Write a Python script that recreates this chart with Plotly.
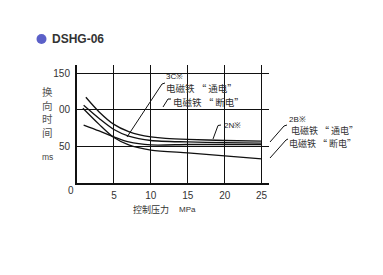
import plotly.graph_objects as go

# ---- data ----
pressure_top = [1.2, 3, 5, 7, 8.5, 10, 12, 15, 20, 25]
time_top = [117, 97, 80, 70, 65.5, 63, 61, 59.5, 58, 57]

pressure_mid = [0.9, 3, 5, 7, 10, 15, 20, 25]
time_mid = [106, 88, 73, 64, 58, 56, 55, 54.5]

pressure_low = [0.8, 3, 5, 7, 10, 15, 20, 25]
time_low = [102, 80, 62, 52, 45, 41, 37, 33]

pressure_lin = [0.9, 3, 5, 7, 10, 15, 20, 25]
time_lin = [79, 71, 63, 56, 52, 52.5, 52.5, 52.3]

x_ticks = [5, 10, 15, 20, 25]
x_ticklabels = ["5", "10", "15", "20", "25"]
y_ticks = [50, 100, 150]
y_ticklabels = ["50", "00", "150"]

W, H = 383, 275
ML, MR, MT, MB = 77, 114, 65, 92
PW, PH = W - ML - MR, H - MT - MB


def pp(px, py):
    return (px - ML) / PW, (H - MB - py) / PH


CJK = "Noto Sans CJK SC, Liberation Sans, sans-serif"
LAT = "Liberation Sans, Arial, sans-serif"

fig = go.Figure()
for xs, ys in [(pressure_top, time_top), (pressure_mid, time_mid),
               (pressure_low, time_low), (pressure_lin, time_lin)]:
    fig.add_trace(go.Scatter(x=xs, y=ys, mode="lines",
                             line=dict(color="#111", width=1.3, shape="spline", smoothing=0.8),
                             showlegend=False, hoverinfo="skip"))

fig.update_layout(
    width=W, height=H,
    margin=dict(l=ML, r=MR, t=MT, b=MB, pad=0),
    paper_bgcolor="white", plot_bgcolor="white",
    xaxis=dict(range=[0, 26], tickvals=x_ticks, ticktext=x_ticklabels,
               showgrid=True, gridcolor="#111", gridwidth=1.4,
               showline=True, linecolor="#111", linewidth=2,
               zeroline=False, ticks="", tickfont=dict(family=LAT, size=10, color="#333"),
               ticklabelstandoff=2),
    yaxis=dict(range=[0, 161], tickvals=y_ticks, ticktext=y_ticklabels,
               showgrid=True, gridcolor="#111", gridwidth=1.4,
               showline=True, linecolor="#111", linewidth=2,
               zeroline=False, ticks="", tickfont=dict(family=LAT, size=10, color="#333"),
               ticklabelstandoff=3),
)

anns = []


def txt(px, py, text, size, family=CJK, color="#222", xanchor="left", bold=False):
    x, y = pp(px, py)
    if bold:
        text = "<b>" + text + "</b>"
    anns.append(dict(x=x, y=y, xref="paper", yref="paper", text=text, showarrow=False,
                     xanchor=xanchor, yanchor="middle",
                     font=dict(family=family, size=size, color=color)))


# title
txt(50, 39, "DSHG-06", 12, family=LAT, color="#333", bold=True)
# y-axis title
txt(47, 112, "换<br>向<br>时<br>间", 10.5, color="#555", xanchor="center")
txt(47, 157, "ms", 8.5, family=LAT, color="#444", xanchor="center")
# origin label
txt(71, 190, "0", 10, family=LAT, color="#333", xanchor="center")
# x-axis title
txt(151, 209, "控制压力", 9, color="#333", xanchor="center")
txt(187, 209, "MPa", 8, family=LAT, color="#333", xanchor="center")
# curve labels
txt(164, 76, "3C※", 8, family=LAT)
txt(164, 87.5, "电磁铁 “ 通电”", 9.5, color="#333")
txt(171, 101.5, "电磁铁 “ 断电”", 9.5, color="#333")
txt(222, 125, "2N※", 8, family=LAT)
txt(287, 119.5, "2B※", 8, family=LAT)
txt(289, 130, "电磁铁 “ 通电”", 9, color="#333")
txt(287, 143.5, "电磁铁 “ 断电”", 9, color="#333")

fig.update_layout(annotations=anns)

shapes = []


def seg(p1, p2):
    x0, y0 = pp(*p1)
    x1, y1 = pp(*p2)
    shapes.append(dict(type="line", xref="paper", yref="paper", x0=x0, y0=y0, x1=x1, y1=y1,
                       line=dict(color="#111", width=1)))


# bullet
cx, cy = pp(41.5, 39)
r = 5
shapes.append(dict(type="circle", xref="paper", yref="paper",
                   x0=cx - r / PW, x1=cx + r / PW, y0=cy - r / PH, y1=cy + r / PH,
                   fillcolor="#5b60c8", line=dict(width=0)))
# leaders
seg((165, 83), (162, 84))
seg((162, 84), (127, 137))
seg((171, 99), (168, 99))
seg((168, 99), (163, 107))
seg((221, 125), (218, 125.5))
seg((218, 125.5), (213, 139))
seg((287, 125), (284, 126))
seg((284, 126), (270, 142))
seg((288, 139), (286, 140))
seg((286, 140), (270, 158))
fig.update_layout(shapes=shapes)

fig.write_html("out.html")
